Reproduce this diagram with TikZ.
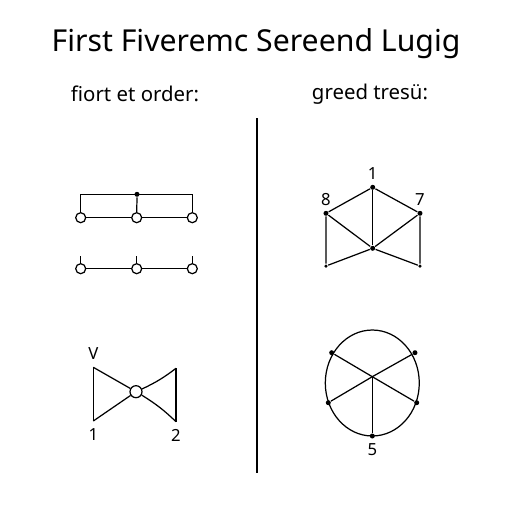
\documentclass[tikz,border=0pt]{standalone}
\usepackage{fontspec}
\setmainfont{Noto Sans}
\usepackage{tikz}

\begin{document}
\begin{tikzpicture}[x=0.02cm, y=-0.02cm, line width=0.7pt]

% styles for the vertices
\tikzstyle{ring} = [draw, circle, fill=white, inner sep=0pt, minimum size=0.2cm]
\tikzstyle{hub} = [draw, circle, fill=white, inner sep=0pt, minimum size=0.24cm]
\tikzstyle{dot} = [fill, circle, inner sep=0pt, minimum size=0.1cm]
\tikzstyle{tinydot} = [fill, circle, inner sep=0pt, minimum size=0.07cm]
\tikzstyle{lbl} = [font=\fontsize{9.5}{10}\selectfont, inner sep=1pt]

\useasboundingbox (0,0) rectangle (512,512);

% Headings
\node[font=\fontsize{17.2}{19}\selectfont] (title) at (256,44) {First Fiveremc Sereend Lugig};
\node[font=\fontsize{11.6}{13}\selectfont] (headL) at (135,94) {fiort et order:};
\node[font=\fontsize{11.6}{13}\selectfont] (headR) at (370,94) {greed tresü:};

% Divider
\coordinate (divtop) at (257,118);
\coordinate (divbot) at (257,473);
\draw[line width=1.1pt] (divtop) -- (divbot);

% Upper left: row with a top bar
\node[ring] (a1) at (80.7,217.7) {};
\node[ring] (a2) at (136.7,217.7) {};
\node[ring] (a3) at (192.3,217.7) {};
\coordinate (barL) at (80.7,194.3);
\coordinate (barR) at (192.3,194.3);
\node[dot] (barM) at (137,194.3) {};
\draw (a1) -- (barL) -- (barR) -- (a3);
\draw (barM) -- (a2);
\draw (a1) -- (a2) -- (a3);

% Lower left: plain row with ticks
\node[ring] (b1) at (80.7,268.7) {};
\node[ring] (b2) at (136.7,268.7) {};
\node[ring] (b3) at (192.3,268.7) {};
\draw (b1) -- (b2) -- (b3);
\foreach \b in {b1,b2,b3}
  \draw[line width=0.5pt] (\b.north) -- ++(0,-7);

% Bow tie
\coordinate (vTL) at (93.3,367.3);
\coordinate (vBL) at (93.3,421);
\coordinate (vTR) at (176,368.3);
\coordinate (vBR) at (176,421.7);
\node[hub] (knot) at (136,391.7) {};
\draw (vTL) -- (vBL);
\draw (vTR) -- (vBR);
\draw (vTL) -- (knot) -- (vBL);
\draw (vTR) to[bend left=6] (knot);
\draw (knot) to[bend left=6] (vBR);
\node[lbl, above=3pt] (lv) at (vTL) {V};
\node[lbl, below=3pt] (l1) at (vBL) {1};
\node[lbl, below=3pt] (l2) at (vBR) {2};

% Upper right: house graph
\node[dot] (p1) at (372.7,187.3) {};
\node[dot] (p8) at (326,213.3) {};
\node[dot] (p7) at (420,213.3) {};
\node[dot] (pc) at (372.7,248.3) {};
\node[tinydot] (pbl) at (326,266) {};
\node[tinydot] (pbr) at (420,266) {};
\draw (p8) -- (p1) -- (p7);
\draw (p1) -- (pc);
\draw (p8) -- (pc) -- (p7);
\draw (p8) -- (pbl) -- (pc) -- (pbr) -- (p7);
\node[lbl, above=3pt] (n1) at (p1) {1};
\node[lbl, above=3pt] (n8) at (p8) {8};
\node[lbl, above=3pt] (n7) at (p7) {7};

% Lower right: wheel in an oval
\draw (372.3,383) ellipse [x radius=0.94cm, y radius=1.06cm];
\coordinate (w0) at (372.3,376.7);
\node[dot] (q1) at (331.7,352.7) {};
\node[dot] (q2) at (415,352.7) {};
\node[dot] (q3) at (328.3,402.7) {};
\node[dot] (q4) at (416.7,402.7) {};
\node[dot] (q5) at (372.3,436) {};
\foreach \q in {q1,q2,q3,q4,q5}
  \draw (w0) -- (\q);
\node[lbl, below=3pt] (n5) at (q5) {5};

\end{tikzpicture}
\end{document}
